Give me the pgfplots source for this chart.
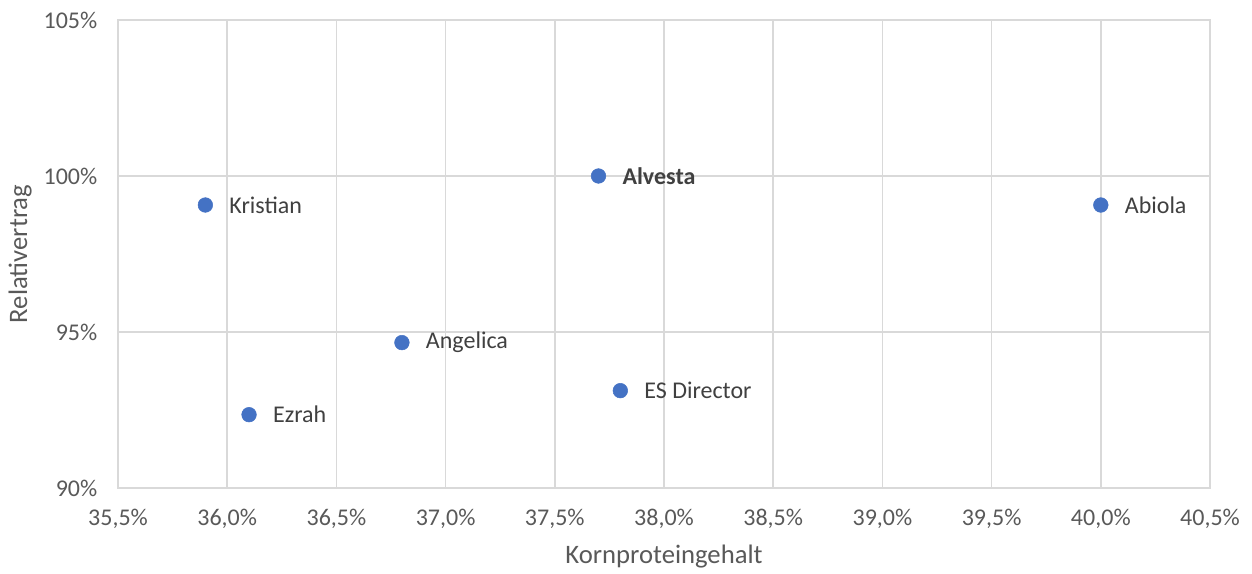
\documentclass[border=0pt]{standalone}
\usepackage{pgfplots}
\pgfplotsset{compat=1.18}
\usepackage{fontspec}
\setmainfont{Carlito}
\definecolor{xlblue}{HTML}{4472C4}
\definecolor{gridc}{HTML}{D9D9D9}
\definecolor{axc}{HTML}{BFBFBF}
\definecolor{tickc}{HTML}{595959}
\definecolor{labc}{HTML}{404040}
\begin{document}
\begin{tikzpicture}
\begin{axis}[
  scale only axis,
  width=819pt, height=351pt,
  xmin=35.5, xmax=40.5, ymin=90, ymax=105,
  xtick={35.5,36,...,40.5}, ytick={90,95,100,105},
  grid=major,
  major grid style={draw=gridc, line width=1.1pt},
  axis line style={draw=gridc, line width=1.1pt},
  x axis line style={draw=axc},
  tick style={draw=none},
  /pgf/number format/assume math mode=true,
  xticklabel={\pgfmathprintnumber[fixed,fixed zerofill,precision=1,use comma]{\tick}\%},
  yticklabel={\pgfmathprintnumber[fixed,precision=0]{\tick}\%},
  ticklabel style={font=\fontsize{18}{20}\selectfont, text=tickc},
  xticklabel style={yshift=-12pt},
  yticklabel style={xshift=-12pt},
  xlabel={Kornproteingehalt},
  ylabel={Relativertrag},
  label style={font=\fontsize{20}{22}\selectfont, text=tickc},
  xlabel style={yshift=-6pt},
  ylabel style={yshift=2pt},
  clip=false,
]
\addplot[only marks, mark=*, mark size=5.5pt, mark options={fill=xlblue, draw=xlblue},
  nodes near coords, point meta=explicit symbolic,
  every node near coord/.append style={anchor=west, xshift=14.5pt, yshift=0pt, font=\fontsize{18}{20}\selectfont, text=labc}]
coordinates {
  (35.9,99.07) [Kristian]
  (37.7,100.0) [\textbf{Alvesta}]
  (40.0,99.07) [Abiola]
  (36.8,94.66) [Angelica]
  (37.8,93.12) [ES Director]
  (36.1,92.35) [Ezrah]
};
\end{axis}
\path (current axis.south west) ++(-88.5pt,-64pt) rectangle ([shift={(31.5pt,15pt)}]current axis.north east);
\end{tikzpicture}
\end{document}
